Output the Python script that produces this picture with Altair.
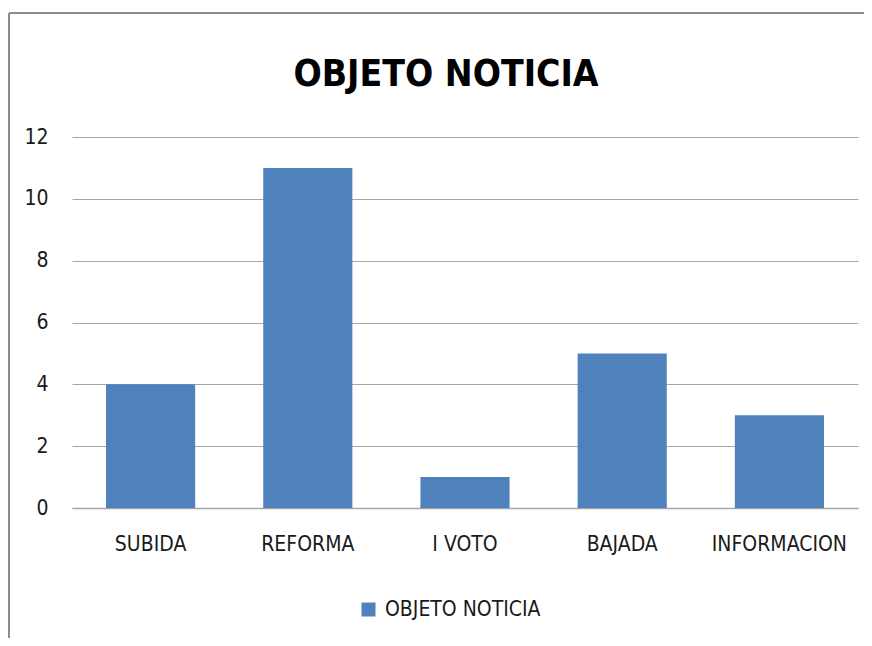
import altair as alt
import pandas as pd

categories = ["SUBIDA", "REFORMA", "I VOTO", "BAJADA", "INFORMACION"]
values = [4, 11, 1, 5, 3]
series_name = "OBJETO NOTICIA"
y_ticks = [0, 2, 4, 6, 8, 10, 12]

df = pd.DataFrame({"cat": categories, "val": values, "series": [series_name] * len(categories)})

FONT = "DejaVu Sans Condensed, Liberation Sans, sans-serif"

bars = alt.Chart(df).mark_bar(color="#4F81BD").encode(
    x=alt.X("cat:N", sort=categories, title=None,
            scale=alt.Scale(paddingInner=0.433, paddingOuter=0.2165),
            axis=alt.Axis(labelAngle=0, labelFontSize=21, labelFont=FONT, labelColor="#1a1a1a",
                          labelPadding=25, ticks=False, domainColor="#A6A6A6", domainWidth=1.5)),
    y=alt.Y("val:Q", title=None,
            scale=alt.Scale(domain=[0, 12], nice=False),
            axis=alt.Axis(values=y_ticks, labelFontSize=21, labelFont=FONT, labelColor="#1a1a1a",
                          labelPadding=24, ticks=False, domain=False,
                          gridColor="#A6A6A6", gridWidth=1.2)),
    color=alt.Color("series:N", scale=alt.Scale(range=["#4F81BD"]),
                    legend=alt.Legend(title=None, orient="none", legendX=286, legendY=462,
                                      symbolType="square", symbolSize=196, symbolStrokeWidth=0,
                                      labelFont=FONT, labelFontSize=21, labelColor="#1a1a1a",
                                      labelOffset=6)),
)

one = pd.DataFrame({"a": [0]})
frame_left = alt.Chart(one).mark_rule(color="#8C8C8C", strokeWidth=2, clip=False).encode(
    x=alt.value(-63), y=alt.value(-124), y2=alt.value(600))
frame_top = alt.Chart(one).mark_rule(color="#8C8C8C", strokeWidth=2, clip=False).encode(
    x=alt.value(-63), x2=alt.value(900), y=alt.value(-124))
title = alt.Chart(one).mark_text(font=FONT, fontSize=37, fontWeight="bold", color="#000",
                                 align="center", baseline="alphabetic").encode(
    x=alt.value(374), y=alt.value(-51), text=alt.value(series_name))

chart = alt.layer(bars, frame_left, frame_top, title).properties(
    width=786, height=371,
    padding={"left": 64, "top": 129, "right": 6, "bottom": 130},
    autosize=alt.AutoSizeParams(type="none"),
).configure_view(stroke=None)

chart.save("out.html", embed_options={"renderer": "svg", "actions": False})
